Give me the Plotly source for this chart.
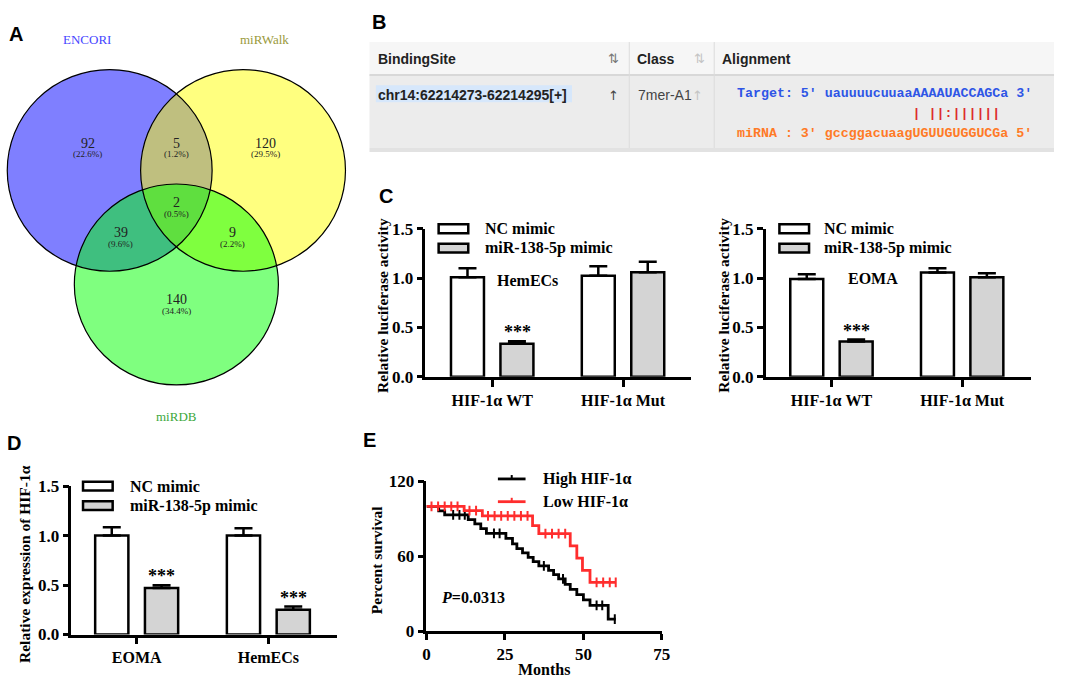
import plotly.graph_objects as go

W, H = 1065, 687


def fx(x):
    return x / W


def fy(y):
    return 1 - y / H


# ---------------- data ----------------
# Venn (A)
venn_sets = ['ENCORI', 'miRWalk', 'miRDB']
venn_regions = ['E', 'EW', 'W', 'EWD', 'ED', 'WD', 'D']
venn_counts = [92, 5, 120, 2, 39, 9, 140]
venn_pct = ['22.6%', '1.2%', '29.5%', '0.5%', '9.6%', '2.2%', '34.4%']

# Binding site table (B)
table_cols = ['BindingSite', 'Class', 'Alignment']
binding_site = 'chr14:62214273-62214295[+]'
site_class = '7mer-A1'
target_seq = "Target: 5' uauuuucuuaaAAAAUACCAGCa 3'"
pair_seq = '| ||:||||||'
mirna_seq = "miRNA : 3' gccggacuaagUGUUGUGGUCGa 5'"

# Luciferase (C)
groups = ['NC mimic', 'miR-138-5p mimic']
luc_cats = ['HIF-1α WT', 'HIF-1α Mut']
hem_nc = [1.01, 1.025]
hem_nc_err = [0.09, 0.095]
hem_mir = [0.335, 1.06]
hem_mir_err = [0.025, 0.105]
eoma_nc = [0.99, 1.057]
eoma_nc_err = [0.05, 0.043]
eoma_mir = [0.357, 1.008]
eoma_mir_err = [0.02, 0.04]

# Expression (D)
expr_cats = ['EOMA', 'HemECs']
expr_nc = [1.0, 1.0]
expr_nc_err = [0.085, 0.075]
expr_mir = [0.47, 0.25]
expr_mir_err = [0.028, 0.032]

# Survival (E)
high_t = [0, 3.9, 5.8, 13.3, 15.4, 17.3, 19.1, 25.3, 27.4, 28.8, 30.6, 32.4, 34.0,
          35.8, 38.9, 40.5, 42.1, 44.2, 45.8, 47.9, 50.0, 52.1, 57.9, 60.3]
high_s = [100, 96.3, 93.2, 89.3, 85.9, 82.2, 78.3, 74.4, 70.0, 66.2, 62.8, 59.1, 55.7,
          52.4, 48.7, 45.4, 42.0, 37.6, 33.6, 29.3, 25.1, 20.7, 9.8, 9.8]
high_cens = [8.5, 10.5, 12.2, 21.5, 23.3, 37.4, 43.5, 54.2, 56.0, 60.0]
low_t = [0, 12.0, 17.8, 33.8, 35.8, 45.8, 47.9, 49.7, 52.1, 60.3]
low_s = [100, 96.6, 92.3, 84.6, 78.1, 68.4, 58.6, 48.8, 39.1, 39.1]
low_cens = [1.6, 3.7, 5.8, 7.9, 9.9, 13.7, 15.8, 19.6, 21.7, 23.8, 25.9, 28.0, 30.1,
            32.2, 37.9, 40.0, 42.1, 44.2, 54.2, 56.3, 58.4, 60.3]
p_value = '0.0313'

# ---------------- styling ----------------
SERIF = 'Liberation Serif'
SANS = 'Liberation Sans'
MONO = 'Liberation Mono'
GREY = '#d4d4d4'
RED = '#ff2d2d'
LW = 2.5

shapes = []
annotations = []


def note(x, y, text, size=16, color='black', xanchor='center', family=SERIF,
         weight='bold', angle=0):
    annotations.append(dict(x=fx(x), y=fy(y), xref='paper', yref='paper', text=text,
                            showarrow=False, xanchor=xanchor, yanchor='middle',
                            textangle=angle, borderpad=0,
                            font=dict(family=family, size=size, color=color, weight=weight)))


def rect(x0, y0, x1, y1, fill, line_color=None, lw=0, layer='below'):
    shapes.append(dict(type='rect', xref='paper', yref='paper',
                       x0=fx(x0), x1=fx(x1), y0=fy(y1), y1=fy(y0),
                       fillcolor=fill, layer=layer,
                       line=dict(width=lw, color=line_color or fill)))


def hline(x0, x1, y, color, lw, layer='below'):
    shapes.append(dict(type='line', xref='paper', yref='paper', x0=fx(x0), x1=fx(x1),
                       y0=fy(y), y1=fy(y), layer=layer,
                       line=dict(color=color, width=lw)))


def vline(x, y0, y1, color, lw, layer='below'):
    shapes.append(dict(type='line', xref='paper', yref='paper', x0=fx(x), x1=fx(x),
                       y0=fy(y0), y1=fy(y1), layer=layer,
                       line=dict(color=color, width=lw)))


fig = go.Figure()

# ---------------- A: Venn ----------------
venn_circles = {  # centre x, centre y, radius (px)
    'ENCORI': (107, 166, 103.7, 'rgba(0,0,255,0.5)'),
    'miRWalk': (242, 166, 103.7, 'rgba(255,255,0,0.5)'),
    'miRDB': (174.5, 283.3, 103.3, 'rgba(0,255,0,0.5)'),
}
venn_name_pos = {'ENCORI': (84, 31, '#4646ff'), 'miRWalk': (264, 31, '#9a9a3c'),
                 'miRDB': (175, 419, '#3ca83c')}
venn_label_pos = {'E': (85, 138), 'EW': (175, 138), 'W': (265, 138), 'EWD': (175, 199),
                  'ED': (118, 230), 'WD': (231, 230), 'D': (175, 299)}

for name in venn_sets:
    cx, cy, r, col = venn_circles[name]
    shapes.append(dict(type='circle', xref='x', yref='y', x0=cx - r, x1=cx + r,
                       y0=cy - r, y1=cy + r, fillcolor=col, line=dict(width=0)))
for name in venn_sets:
    cx, cy, r, col = venn_circles[name]
    shapes.append(dict(type='circle', xref='x', yref='y', x0=cx - r, x1=cx + r,
                       y0=cy - r, y1=cy + r, line=dict(width=1.2, color='black')))
for name in venn_sets:
    x, y, c = venn_name_pos[name]
    annotations.append(dict(x=x, y=y, xref='x', yref='y', text=name, showarrow=False,
                            font=dict(family=SERIF, size=13, color=c)))
for reg, cnt, pct in zip(venn_regions, venn_counts, venn_pct):
    x, y = venn_label_pos[reg]
    annotations.append(dict(x=x, y=y, xref='x', yref='y', text=str(cnt), showarrow=False,
                            borderpad=0, font=dict(family=SERIF, size=14, color='#222')))
    annotations.append(dict(x=x, y=y + 11.5, xref='x', yref='y', text='(%s)' % pct,
                            showarrow=False, borderpad=0,
                            font=dict(family=SERIF, size=9, color='#222')))
# invisible carrier trace for the venn axes
fig.add_trace(go.Scatter(x=[100], y=[100], mode='markers', marker=dict(opacity=0),
                         xaxis='x', yaxis='y', hoverinfo='skip'))

# ---------------- B: table ----------------
rect(370, 34, 1063, 68, '#f6f6f6')
rect(370, 68, 1063, 143, '#ececec')
rect(370, 143, 1063, 147, '#e2e2e2')
hline(370, 1063, 68, '#d8d8d8', 2)
vline(633, 34, 143, '#dcdcdc', 1)
vline(719, 34, 143, '#dcdcdc', 1)
rect(376.5, 78.5, 575, 96, '#d6e7fb')
note(378, 51, table_cols[0], size=14, family=SANS, color='#222', xanchor='left')
note(640, 51, table_cols[1], size=14, family=SANS, color='#222', xanchor='left')
note(726, 51, table_cols[2], size=14, family=SANS, color='#222', xanchor='left')
note(617, 51, '⇅', size=13, family='DejaVu Sans', color='#777', weight='normal')
note(704, 51, '⇅', size=13, family='DejaVu Sans', color='#c4c4c4', weight='normal')
note(378, 88, binding_site, size=14, family=SANS, color='#222', xanchor='left')
note(617, 89, '↑', size=13, family='DejaVu Sans', color='#444', weight='normal')
note(641, 88, site_class, size=14, family=SANS, color='#444', xanchor='left', weight='normal')
note(702, 89, '↑', size=13, family='DejaVu Sans', color='#c4c4c4', weight='normal')
note(741, 87, target_seq.replace(' ', '\u00a0'), size=13.3, family=MONO,
     color='#2e55e6', xanchor='left')
note(741, 107, ('\u00a0' * 22 + pair_seq).replace(' ', '\u00a0'), size=13.3, family=MONO,
     color='#dd2a2a', xanchor='left')
note(741, 128, mirna_seq.replace(' ', '\u00a0'), size=13.3, family=MONO,
     color='#ff7a26', xanchor='left')

# ---------------- bar panels C, D ----------------
bar_panels = [
    # axis no, categories, nc, nc_err, mir, mir_err
    (2, luc_cats, hem_nc, hem_nc_err, hem_mir, hem_mir_err),
    (3, luc_cats, eoma_nc, eoma_nc_err, eoma_mir, eoma_mir_err),
    (4, expr_cats, expr_nc, expr_nc_err, expr_mir, expr_mir_err),
]
for n, cats, nc, nce, mir, mire in bar_panels:
    for vals, errs, fill, name in [(nc, nce, 'white', groups[0]), (mir, mire, GREY, groups[1])]:
        fig.add_trace(go.Bar(
            x=cats, y=vals, name=name, xaxis='x%d' % n, yaxis='y%d' % n,
            marker=dict(color=fill, line=dict(color='black', width=LW)),
            error_y=dict(type='data', symmetric=False, array=errs,
                         arrayminus=[0] * len(errs), thickness=LW, width=9,
                         color='black')))
    for c, v, e in zip(cats, mir, mire):
        if v < 0.6:
            annotations.append(dict(x=c, y=v + e, xref='x%d' % n, yref='y%d' % n,
                                    text='***', showarrow=False, xshift=25, yshift=-3,
                                    yanchor='bottom',
                                    font=dict(family=SERIF, size=18, color='black',
                                              weight='bold')))

xtick_font = dict(family=SERIF, size=16, color='black', weight='bold')
ytick_font = dict(family=SERIF, size=17, color='black', weight='bold')
axis_common = dict(showline=True, linecolor='black', linewidth=LW, ticks='outside',
                   tickwidth=LW, tickcolor='black',
                   showgrid=False, zeroline=False, fixedrange=True)

layout_axes = {}
# venn axes: one unit = one pixel
layout_axes['xaxis'] = dict(domain=[0, fx(360)], range=[0, 360], visible=False,
                            anchor='y')
layout_axes['yaxis'] = dict(domain=[fy(460), 1], range=[460, 0], visible=False,
                            anchor='x')

bar_geom = {  # x_left, x_right, y_bottom, y_top (px), x range
    2: (426.7, 695, 378.3, 226, [-0.51, 1.516]),
    3: (771, 1040, 378.3, 226, [-0.504, 1.529]),
    4: (68.3, 336.7, 643.3, 490.7, [-0.495, 1.518]),
}
for n, (xl, xr, yb, yt, rng) in bar_geom.items():
    layout_axes['xaxis%d' % n] = dict(axis_common, domain=[fx(xl), fx(xr)], range=rng,
                                      type='category', anchor='y%d' % n, ticklen=7,
                                      tickfont=xtick_font)
    layout_axes['yaxis%d' % n] = dict(axis_common, domain=[fy(yb), fy(yt)],
                                      range=[0, 1.5], dtick=0.5, tickformat='.1f',
                                      anchor='x%d' % n, ticklen=6, tickfont=ytick_font)

# legends, titles and labels for bar panels
for bx, tx, yc in [(440, 486, 226), (785, 829, 226), (80, 126.7, 490.7)]:
    rect(bx, yc - 4.5, bx + 30, yc + 4.5, 'white', 'black', LW, layer='above')
    rect(bx, yc + 15.5, bx + 30, yc + 24.5, GREY, 'black', LW, layer='above')
    note(tx, yc, groups[0], xanchor='left')
    note(tx, yc + 20, groups[1], xanchor='left')
note(530, 279, 'HemECs')
note(880, 277, 'EOMA')
note(383, 305, 'Relative luciferase activity', size=15.5, angle=-90)
note(728, 305, 'Relative luciferase activity', size=15.5, angle=-90)
note(20, 571, 'Relative expression of HIF-1α', size=15.5, angle=-90)

# ---------------- E: survival ----------------


def surv_at(t, times, surv):
    s = surv[0]
    for ti, si in zip(times, surv):
        if ti <= t:
            s = si
    return s


for t, s, cens, col, name in [(high_t, high_s, high_cens, 'black', 'High HIF-1α'),
                              (low_t, low_s, low_cens, RED, 'Low HIF-1α')]:
    fig.add_trace(go.Scatter(x=t, y=s, mode='lines', name=name, xaxis='x5', yaxis='y5',
                             line=dict(shape='hv', color=col, width=2.8)))
    fig.add_trace(go.Scatter(x=cens, y=[surv_at(c, t, s) for c in cens], mode='markers',
                             xaxis='x5', yaxis='y5', showlegend=False,
                             marker=dict(symbol='line-ns-open', size=7, color=col,
                                         line=dict(width=2, color=col))))

layout_axes['xaxis5'] = dict(axis_common, domain=[fx(427.7), fx(666)], range=[0, 75],
                             tickvals=[0, 25, 50, 75], anchor='y5', ticklen=6,
                             tickfont=ytick_font)
layout_axes['yaxis5'] = dict(axis_common, domain=[fy(640), fy(485.7)],
                             range=[0, 120], tickvals=[0, 60, 120], anchor='x5', ticklen=6,
                             tickfont=ytick_font)

for yc, col, name in [(483.3, 'black', 'High HIF-1α'), (506.7, RED, 'Low HIF-1α')]:
    hline(500, 528, yc, col, 2.8, layer='above')
    vline(514, yc, yc - 4, col, 2, layer='above')
    note(545, yc, name, xanchor='left')
note(441.7, 605, '<i>P</i>=' + p_value, xanchor='left')
note(546.7, 679, 'Months')
note(376.7, 566.7, 'Percent survival', size=15.5, angle=-90)

# ---------------- panel letters ----------------
for letter, x, y in [('A', 12.5, 25.5), ('B', 380, 13), ('C', 387, 192), ('D', 10, 446),
                     ('E', 370, 443)]:
    note(x, y, letter, size=20, family=SANS)

fig.update_layout(
    width=W, height=H, margin=dict(l=0, r=0, t=0, b=0),
    paper_bgcolor='white', plot_bgcolor='white', showlegend=False,
    barmode='group', bargap=0.244, bargroupgap=0.333,
    shapes=shapes, annotations=annotations, **layout_axes)

# drop the default body margin so the 1065x687 figure fills the window exactly
fig.write_html("out.html", config={'displayModeBar': False},
               post_script="document.body.style.margin='0px';"
                           "document.body.style.overflow='hidden';")
